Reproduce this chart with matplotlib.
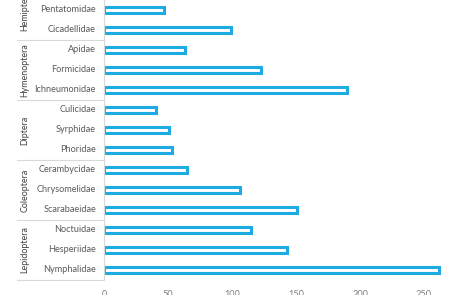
import matplotlib
matplotlib.use("Agg")
import matplotlib.pyplot as plt

# data (bottom to top)
families = ["Nymphalidae", "Hesperiidae", "Noctuidae",
            "Scarabaeidae", "Chrysomelidae", "Cerambycidae",
            "Phoridae", "Syrphidae", "Culicidae",
            "Ichneumonidae", "Formicidae", "Apidae",
            "Cicadellidae", "Pentatomidae"]
values = [262, 143, 115, 151, 106, 65, 53, 51, 41, 190, 123, 63, 99, 47]
orders = ["Lepidoptera", "Coleoptera", "Diptera", "Hymenoptera", "Hemiptera"]
order_sizes = [3, 3, 3, 3, 3]
xticks = [0, 50, 100, 150, 200, 250]

W, H = 460, 295
fig = plt.figure(figsize=(W / 100, H / 100), dpi=100)
left_px, bottom_px = 104, 280
ax = fig.add_axes([left_px / W, (H - bottom_px) / H, (W - left_px) / W, bottom_px / H])

blue = "#1DACE2"
cat_txt = "#5A5A5A"
grp_txt = "#404040"
tick_txt = "#808080"
line_grey = "#D9D9D9"
font = "Lato"

ypos = list(range(len(families)))
ax.barh(ypos, values, height=0.3, color="white", edgecolor=blue, linewidth=2.2)

ax.set_xlim(0, (W - left_px) / 1.28)
ax.set_ylim(-0.5, 13.5)
ax.set_xticks(xticks)
ax.set_xticklabels([str(t) for t in xticks], fontsize=6.6, color=tick_txt, family=font)
ax.tick_params(axis="x", length=0, pad=7)
ax.set_yticks([])
for s in ["top", "right", "bottom"]:
    ax.spines[s].set_visible(False)
ax.spines["left"].set_color(line_grey)
ax.spines["left"].set_linewidth(0.8)

trans = ax.get_yaxis_transform()
x_lab = -8 / (W - left_px)
for y, name in zip(ypos, families):
    ax.text(x_lab, y, name, transform=trans, ha="right", va="center",
            fontsize=6.6, color=cat_txt, family=font, clip_on=False)

x_line0 = (17 - left_px) / (W - left_px)
x_grp = (25 - left_px) / (W - left_px)
start = 0
bounds = [-0.5]
for name, n in zip(orders, order_sizes):
    center = start + (n - 1) / 2
    ax.text(x_grp, center, name, transform=trans, ha="center", va="center",
            rotation=90, fontsize=6.4, color=grp_txt, family=font, clip_on=False)
    start += n
    bounds.append(start - 0.5)
for b in bounds[:-1]:
    ax.plot([x_line0, 0], [b, b], transform=trans, color=line_grey,
            linewidth=0.8, clip_on=False)

fig.savefig("out.png", dpi=100)
